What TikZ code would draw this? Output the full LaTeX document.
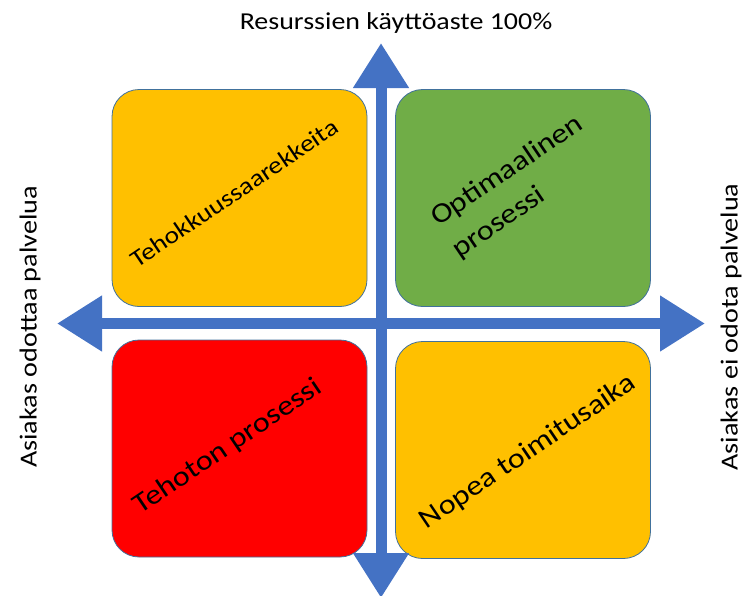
\documentclass[tikz,border=0pt]{standalone}
\usepackage{fontspec}
\setmainfont{Carlito}[FakeStretch=1.15]
\usepackage{tikz}
\usetikzlibrary{arrows.meta}
\definecolor{axisblue}{HTML}{4472C4}
\definecolor{edge}{HTML}{41719C}
\definecolor{orangeq}{HTML}{FFC000}
\definecolor{greenq}{HTML}{70AD47}
\definecolor{redq}{HTML}{FF0000}
\tikzstyle{quad} = [rectangle, rounded corners=27pt, minimum width=255pt, minimum height=217pt, draw=edge, line width=0.8pt]
\tikzstyle{quadtext} = [rotate=34, inner sep=0pt, font=\fontsize{28}{38}\selectfont]
\tikzstyle{axislabel} = [inner sep=0pt, font=\fontsize{24.5}{28}\selectfont]
\tikzstyle{axis} = [draw=axisblue, line width=11pt, {Triangle[width=53pt,length=45pt]}-{Triangle[width=53pt,length=45pt]}]

\begin{document}
\begin{tikzpicture}[x=1pt, y=-1pt]
  \useasboundingbox (0,0) rectangle (744,595);

  \node (tl) [quad, fill=orangeq] at (239.5,198) {};
  \node (tr) [quad, fill=greenq] at (523,198) {};
  \node (bl) [quad, fill=redq] at (239.5,448.5) {};
  \node (br) [quad, fill=orangeq] at (523,450) {};

  \coordinate (west) at (57,323.5);
  \coordinate (east) at (705,323.5);
  \coordinate (north) at (381,43);
  \coordinate (south) at (381,598);
  \draw [axis] (west) -- (east);
  \draw [axis] (south) -- (north);

  \node (tehok) [quadtext, font=\fontsize{24}{30}\selectfont] at (234,193) {Tehokkuussaarekkeita};
  \node (optim) [quadtext, align=left] at (518,187) {Optimaalinen\\prosessi};
  \node (tehot) [quadtext] at (228,447) {Tehoton prosessi};
  \node (nopea) [quadtext] at (528,452) {Nopea toimitusaika};

  \node (util) [axislabel, font=\fontsize{24.3}{28}\selectfont] at (396,23) {Resurssien käyttöaste 100\%};
  \node (wait) [axislabel, rotate=90] at (30,327) {Asiakas odottaa palvelua};
  \node (nowait) [axislabel, rotate=90] at (731,327) {Asiakas ei odota palvelua};
\end{tikzpicture}
\end{document}
